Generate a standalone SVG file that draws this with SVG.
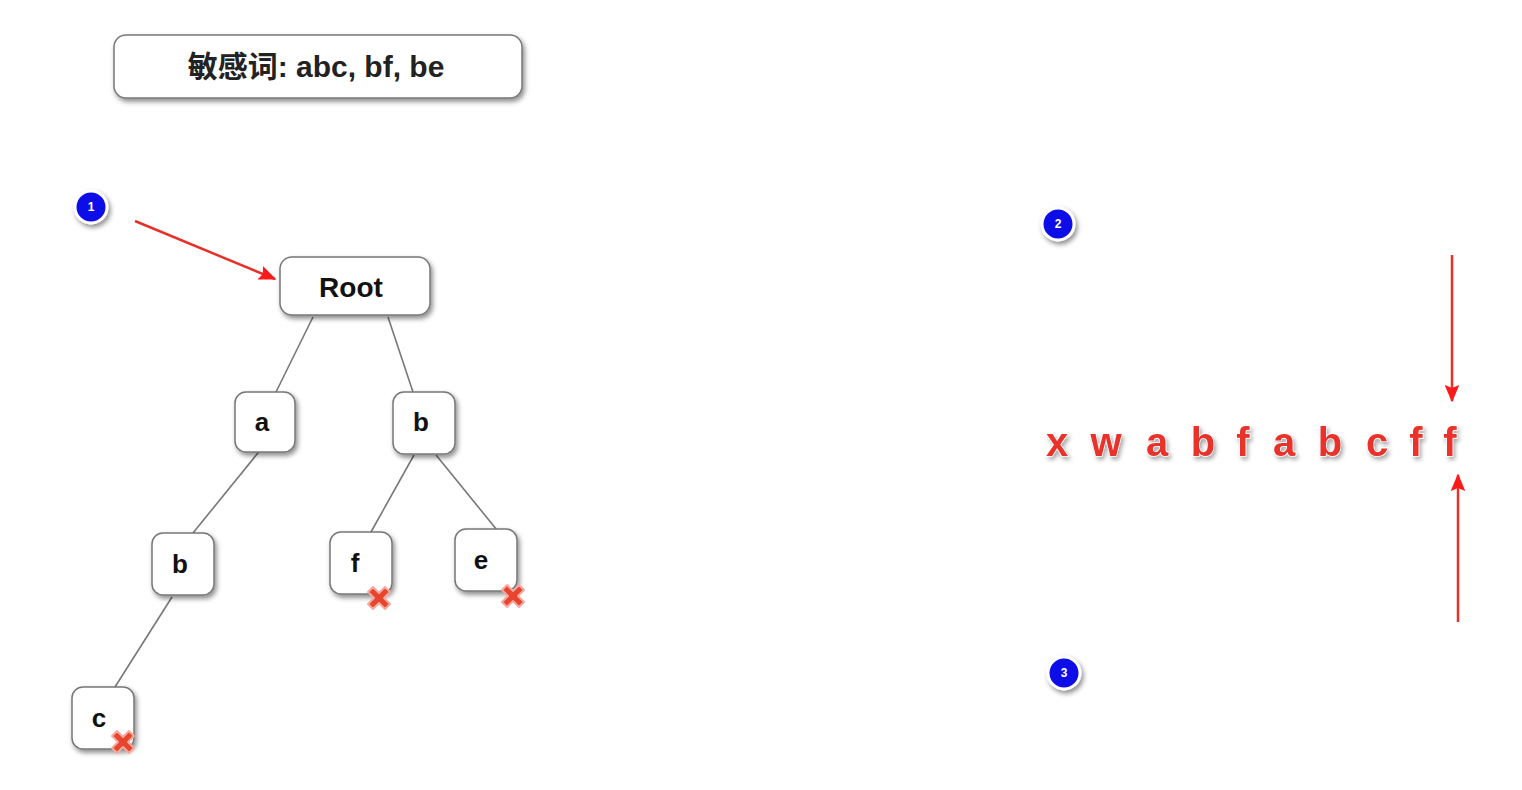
<svg xmlns="http://www.w3.org/2000/svg" width="1522" height="790" viewBox="0 0 1522 790">
<defs>
<filter id="sh" x="-20%" y="-20%" width="150%" height="150%">
<feDropShadow dx="2" dy="3" stdDeviation="2.5" flood-color="#000" flood-opacity="0.45"/>
</filter>
<filter id="tsh" x="-30%" y="-30%" width="170%" height="170%">
<feDropShadow dx="2" dy="3" stdDeviation="2" flood-color="#000" flood-opacity="0.35"/>
</filter>
<marker id="ah" viewBox="0 0 12 10" refX="11" refY="5" markerWidth="7" markerHeight="6" orient="auto" markerUnits="strokeWidth">
<path d="M0,0 L12,5 L0,10 L2,5 z" fill="#ff1a1a"/>
</marker>
<g id="xmark">
<path d="M-11,-6 L-6,-11 L0,-5 L6,-11 L11,-6 L5,0 L11,6 L6,11 L0,5 L-6,11 L-11,6 L-5,0 z" fill="#e8452f" stroke="#f4a99e" stroke-width="2" stroke-linejoin="round"/>
</g>
</defs>
<style>
.box{fill:#fff;stroke:#777;stroke-width:1.5;filter:url(#sh)}
.lbl{font-family:"Liberation Sans",Arial,sans-serif;font-weight:bold;font-size:26px;fill:#111;text-anchor:middle}
.ttl{font-family:"Liberation Sans","Noto Sans CJK SC",sans-serif;font-weight:bold;font-size:30px;fill:#222;text-anchor:middle}
.big{font-size:28px}
.edge{stroke:#777;stroke-width:1.6;fill:none}
.red{stroke:#e8302a;stroke-width:2.5;fill:none;marker-end:url(#ah)}
.badge{fill:#0a10e8;stroke:#fff;stroke-width:3;filter:url(#sh)}
.bnum{font-family:"Liberation Sans",Arial,sans-serif;font-weight:bold;font-size:12px;fill:#fff;text-anchor:middle}
.seq{font-family:"Liberation Sans",Arial,sans-serif;font-weight:bold;font-size:40px;fill:#e8302a;stroke:#fff;stroke-width:1.2;paint-order:stroke;text-anchor:middle;filter:url(#tsh)}
</style>
<rect width="1522" height="790" fill="#fff"/>

<g id="title">
<rect class="box" x="114" y="35" width="408" height="63" rx="12"/>
<text class="ttl" x="316" y="77">敏感词: abc, bf, be</text>
</g>

<g id="connectors">
<line class="edge" x1="313" y1="317" x2="276" y2="392"/>
<line class="edge" x1="388" y1="317" x2="413" y2="392"/>
<line class="edge" x1="262" y1="448" x2="193" y2="533"/>
<line class="edge" x1="172" y1="597" x2="115" y2="687"/>
<line class="edge" x1="414" y1="455" x2="371" y2="532"/>
<line class="edge" x1="436" y1="455" x2="497" y2="530"/>
<line class="red" x1="135" y1="221" x2="275" y2="279"/>
<line class="red" x1="1452" y1="255" x2="1452" y2="401"/>
<line class="red" x1="1458" y1="622" x2="1458" y2="475"/>
</g>

<g id="badge1"><circle class="badge" cx="91" cy="207" r="16"/><text class="bnum" x="91" y="211">1</text></g>
<g id="badge2"><circle class="badge" cx="1058" cy="224" r="16"/><text class="bnum" x="1058" y="228">2</text></g>
<g id="badge3"><circle class="badge" cx="1064" cy="673" r="16"/><text class="bnum" x="1064" y="677">3</text></g>

<g id="root"><rect class="box" x="280" y="257" width="150" height="58" rx="12"/><text class="lbl big" x="351" y="297">Root</text></g>
<g id="node-a"><rect class="box" x="235" y="392" width="60" height="60" rx="11"/><text class="lbl" x="262" y="431">a</text></g>
<g id="node-b1"><rect class="box" x="393" y="392" width="62" height="62" rx="11"/><text class="lbl" x="421" y="431">b</text></g>
<g id="node-b2"><rect class="box" x="152" y="533" width="62" height="62" rx="11"/><text class="lbl" x="180" y="573">b</text></g>
<g id="node-f"><rect class="box" x="330" y="532" width="62" height="62" rx="11"/><text class="lbl" x="355" y="572">f</text><use href="#xmark" x="379" y="598"/></g>
<g id="node-e"><rect class="box" x="455" y="529" width="62" height="62" rx="11"/><text class="lbl" x="481" y="569">e</text><use href="#xmark" x="513" y="596"/></g>
<g id="node-c"><rect class="box" x="72" y="687" width="62" height="62" rx="11"/><text class="lbl" x="99" y="727">c</text><use href="#xmark" x="123" y="742"/></g>

<g id="sequence">
<text class="seq" x="1057" y="456">x</text>
<text class="seq" x="1106" y="456">w</text>
<text class="seq" x="1157" y="456">a</text>
<text class="seq" x="1203" y="456">b</text>
<text class="seq" x="1243" y="456">f</text>
<text class="seq" x="1284" y="456">a</text>
<text class="seq" x="1330" y="456">b</text>
<text class="seq" x="1377" y="456">c</text>
<text class="seq" x="1416" y="456">f</text>
<text class="seq" x="1450" y="456">f</text>
</g>
</svg>
